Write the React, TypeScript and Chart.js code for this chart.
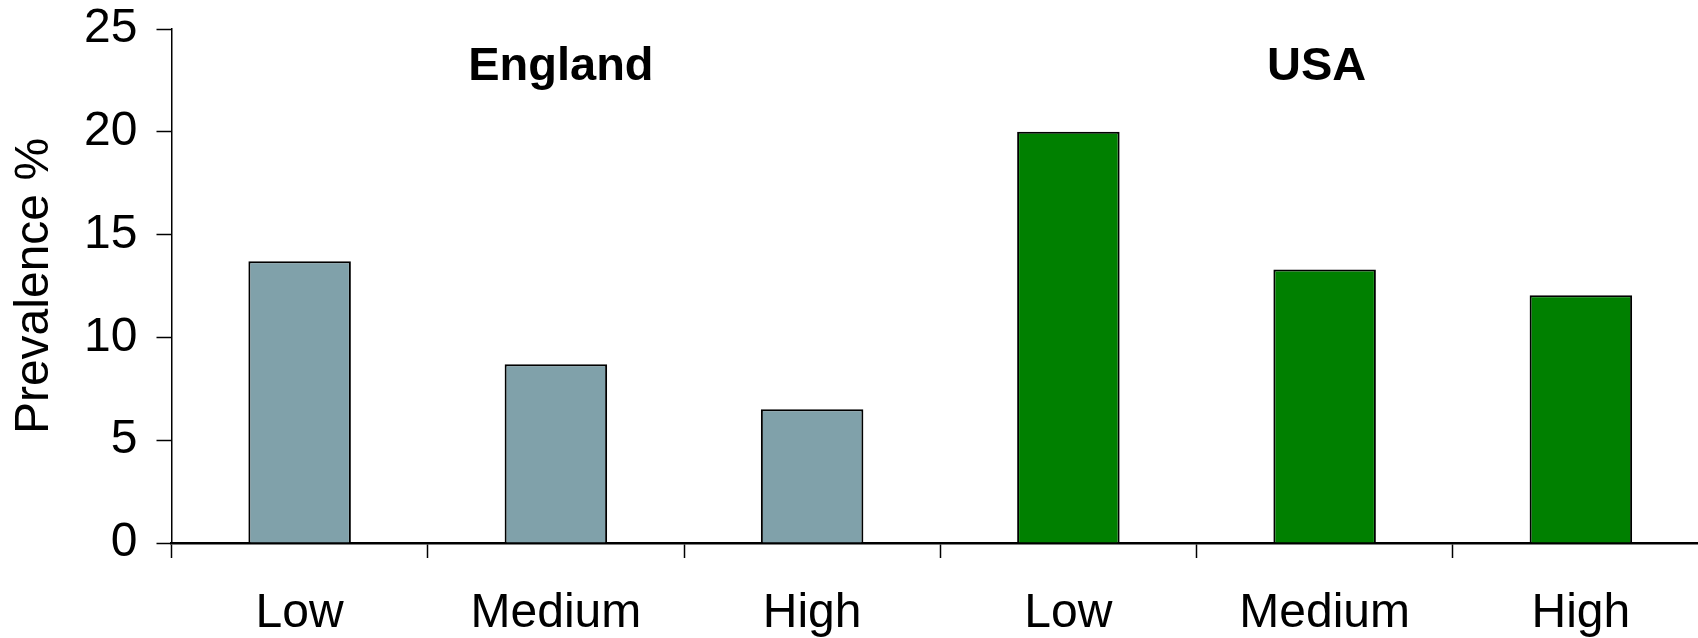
import React, { useEffect, useRef } from "react";
import { Chart, registerables } from "chart.js";

Chart.register(...registerables);

const levels = ["Low", "Medium", "High"];
const groups = ["England", "USA"];
const englandValues = [13.7, 8.7, 6.5];
const usaValues = [20.0, 13.3, 12.05];
const groupColors = ["#80A1AA", "#008000"];
const yTicks = [0, 5, 10, 15, 20, 25];
const yTitle = "Prevalence %";

const FONT = "'Liberation Sans', Arial, sans-serif";

export default function App() {
  const ref = useRef<HTMLCanvasElement | null>(null);

  useEffect(() => {
    document.body.style.overflow = "hidden";
    const canvas = ref.current;
    if (!canvas) return;

    const labels = [...levels, ...levels];
    const values = [...englandValues, ...usaValues];
    const colors = [
      ...englandValues.map(() => groupColors[0]),
      ...usaValues.map(() => groupColors[1]),
    ];
    const groupSeries = [englandValues, usaValues];

    const groupTitles = {
      id: "groupTitles",
      afterDraw(chart: any) {
        const ctx = chart.ctx;
        const x = chart.scales.x;
        const area = chart.chartArea;
        const nudges = [5, -8];
        ctx.save();
        ctx.font = `bold 47px ${FONT}`;
        ctx.fillStyle = "#000";
        ctx.textAlign = "center";
        ctx.textBaseline = "alphabetic";
        let start = 0;
        groups.forEach((g, i) => {
          const n = groupSeries[i].length;
          const cx =
            (x.getPixelForValue(start) + x.getPixelForValue(start + n - 1)) / 2 +
            nudges[i];
          ctx.fillText(g, cx, area.top + 51);
          start += n;
        });
        ctx.restore();
      },
    };

    const chart = new Chart(canvas, {
      type: "bar",
      data: {
        labels,
        datasets: [
          {
            data: values,
            backgroundColor: colors,
            borderColor: "#000",
            borderWidth: 2,
            barPercentage: 0.4,
            categoryPercentage: 1.0,
          },
        ],
      },
      options: {
        responsive: false,
        animation: false,
        maintainAspectRatio: false,
        layout: { padding: { top: 29, right: 1, left: 0, bottom: 0 } },
        plugins: {
          legend: { display: false },
          tooltip: { enabled: false },
          title: { display: false },
        },
        scales: {
          x: {
            z: 1,
            offset: true,
            grid: {
              display: true,
              offset: true,
              drawOnChartArea: false,
              drawTicks: true,
              tickLength: 15,
              tickColor: "#000",
              tickWidth: 1.5,
            },
            border: { display: true, color: "#000", width: 2.5 },
            ticks: {
              color: "#000",
              font: { family: FONT, size: 48 },
              padding: 27,
              maxRotation: 0,
              autoSkip: false,
            },
            afterFit: (scale: any) => {
              scale.height = 95;
              scale.paddingLeft = 0;
              scale.paddingRight = 0;
            },
          },
          y: {
            min: 0,
            max: 25,
            afterBuildTicks: (scale: any) => {
              scale.ticks = yTicks.map((v) => ({ value: v }));
            },
            grid: {
              display: true,
              drawOnChartArea: false,
              drawTicks: true,
              tickLength: 15,
              tickColor: "#000",
              tickWidth: 1.5,
            },
            border: { display: true, color: "#000", width: 1.5 },
            ticks: {
              color: "#000",
              font: { family: FONT, size: 48 },
              padding: 19,
            },
            title: {
              display: true,
              text: yTitle,
              color: "#000",
              font: { family: FONT, size: 48 },
              padding: { top: 6, bottom: 0 },
            },
            afterFit: (scale: any) => {
              scale.width = 171.5;
              scale.paddingTop = 0;
              scale.paddingBottom = 0;
            },
          },
        },
      },
      plugins: [groupTitles],
    });

    return () => {
      chart.destroy();
    };
  }, []);

  return (
    <div
      style={{
        position: "absolute",
        left: 0,
        top: 0,
        width: 1710,
        height: 638,
        background: "#fff",
      }}
    >
      <canvas ref={ref} width={1710} height={638} style={{ display: "block" }} />
    </div>
  );
}
